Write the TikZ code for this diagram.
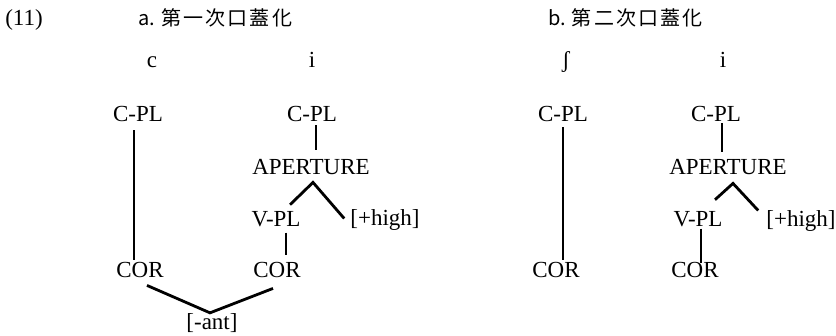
\documentclass[tikz,border=0pt]{standalone}
\usepackage{fontspec}
\setmainfont{Liberation Serif}
\newfontfamily\cjk{Noto Sans CJK JP}
\newfontfamily\cjksp[LetterSpace=11]{Noto Sans CJK JP}
\begin{document}
\begin{tikzpicture}[x=1pt,y=-1pt,
  lbl/.style={font=\fontsize{23}{25}\selectfont, inner sep=0pt, anchor=base},
  ttl/.style={font=\fontsize{20}{22}\selectfont, inner sep=0pt, anchor=base west},
  br/.style={line width=2.8pt}]
\useasboundingbox (0,0) rectangle (836,336);
% headings
\node[lbl] (num) at (24,26) {(11)};
\node[ttl] (ta) at (138,26) {{\cjk a.}\hspace{6pt}{\cjksp 第一次口蓋化}};
\node[ttl] (tb) at (548,26) {{\cjk b.}\hspace{6pt}{\cjksp 第二次口蓋化}};
\node[lbl] (sc) at (152,68) {c};
\node[lbl] (si1) at (312,68) {i};
\node[lbl] (ssh) at (566,68) {ʃ};
\node[lbl] (si2) at (723,68) {i};
% tree a
\node[lbl] (cpl1) at (138,122) {C-PL};
\node[lbl] (cor1) at (140,278) {COR};
\node[lbl] (cpl2) at (312,122) {C-PL};
\node[lbl] (ap1) at (311,175) {APERTURE};
\node[lbl] (vpl1) at (276,227) {V-PL};
\node[lbl] (hi1) at (385,226) {[+high]};
\node[lbl] (cor2) at (277,278) {COR};
\node[lbl] (ant) at (212,330) {[-ant]};
\draw[br] ([xshift=-4pt,yshift=-8pt]cpl1.south) -- ([xshift=-6pt,yshift=3pt]cor1.north);
\draw[br] ([xshift=4pt,yshift=-3pt]cpl2.south) -- ([xshift=5pt,yshift=10pt]ap1.north);
\coordinate (apx1) at ([xshift=2pt,yshift=-7pt]ap1.south);
\draw[br] ([xshift=14pt,yshift=7pt]vpl1.north) -- (apx1) -- ([xshift=-6pt,yshift=2pt]hi1.west);
\draw[br] ([xshift=10pt,yshift=-5pt]vpl1.south) -- ([xshift=9pt,yshift=8pt]cor2.north);
\draw[br] ([xshift=7pt,yshift=-7pt]cor1.south) -- ([xshift=-2pt,yshift=1pt]ant.north) -- ([xshift=-4pt,yshift=-10pt]cor2.south);
% tree b
\node[lbl] (cpl3) at (563,122) {C-PL};
\node[lbl] (cor3) at (556,278) {COR};
\node[lbl] (cpl4) at (716,122) {C-PL};
\node[lbl] (ap2) at (728,175) {APERTURE};
\node[lbl] (vpl2) at (698,227) {V-PL};
\node[lbl] (hi2) at (801,227) {[+high]};
\node[lbl] (cor4) at (695,278) {COR};
\draw[br] ([yshift=-5pt]cpl3.south) -- ([xshift=7pt,yshift=3pt]cor3.north);
\draw[br] ([xshift=6pt,yshift=-1pt]cpl4.south) -- ([xshift=-6pt,yshift=8pt]ap2.north);
\coordinate (apx2) at ([xshift=5pt,yshift=-8pt]ap2.south);
\draw[br] ([xshift=17pt,yshift=12pt]vpl2.north) -- (apx2) -- ([xshift=-8pt,yshift=11pt]hi2.west);
\draw[br] ([xshift=3pt,yshift=-1pt]vpl2.south) -- ([xshift=6pt]cor4.north);
\end{tikzpicture}
\end{document}
